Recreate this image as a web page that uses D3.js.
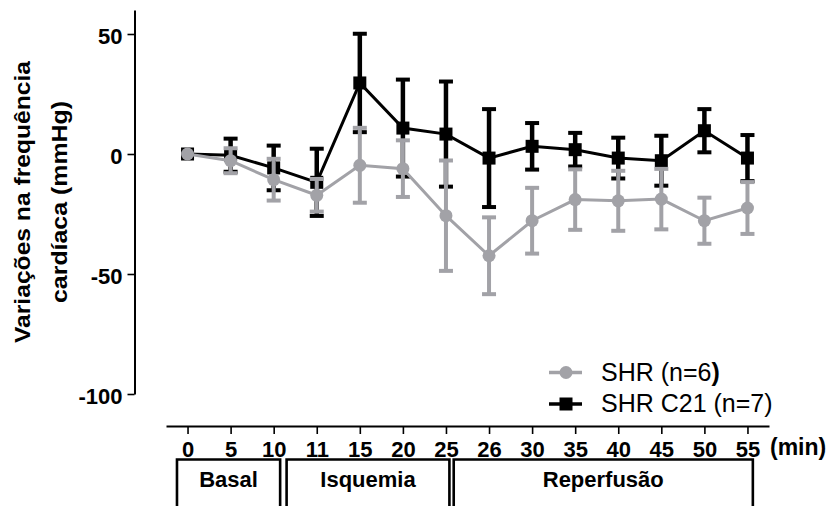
<!DOCTYPE html>
<html><head><meta charset="utf-8">
<script src="https://cdn.jsdelivr.net/npm/d3@7"></script>
<style>
body{margin:0;background:#fff}
svg{display:block}
text{font-family:"Liberation Sans",Arial,Helvetica,sans-serif}
</style>
</head><body>
<svg id="chart" width="830" height="506"></svg>
<script>
// ---- data ----
const timeLabels = ["0","5","10","11","15","20","25","26","30","35","40","45","50","55"];
const shrMean = [0, -2.8, -10.7, -17.2, -4.7, -6.1, -25.7, -42.4, -27.8, -19.0, -19.5, -18.8, -27.8, -22.5];
const shrSem  = [0, 5.2, 8.7, 6.8, 15.6, 11.8, 23.0, 16.0, 13.7, 12.6, 12.5, 12.6, 9.6, 10.8];
const c21Mean = [0, -0.5, -5.8, -11.8, 29.6, 10.8, 8.3, -1.7, 3.2, 1.8, -1.7, -2.8, 9.7, -1.7];
const c21Sem  = [0, 6.9, 9.3, 14.0, 20.5, 20.2, 21.9, 20.4, 9.7, 7.0, 8.5, 10.4, 9.0, 9.6];
const yTicks = [50, 0, -50, -100];
const seriesNames = ["SHR (n=6", "SHR C21 (n=7)"];
const phaseLabels = ["Basal", "Isquemia", "Reperfusão"];
// phase box extents in time-index units
const phaseStart = [-0.245, 2.30, 6.18];
const phaseEnd   = [2.15, 6.08, 13.125];
const yTitle = ["Variações na frequência", "cardíaca (mmHg)"];
const xUnit = "(min)";

const GRAY = "#a2a2a7";
const svg = d3.select("#chart");

const x = d3.scalePoint().domain(timeLabels).range([166, 769]).padding(0.5);
const xi = d3.scaleLinear().domain([0, timeLabels.length - 1]).range([x(timeLabels[0]), x(timeLabels[timeLabels.length-1])]);
const y = d3.scaleLinear().domain([-100, 60]).range([394, 10]);

// ---- y axis ----
const gy = svg.append("g").attr("transform", "translate(134.5,0)")
  .call(d3.axisLeft(y).tickValues(yTicks).tickSize(7).tickSizeOuter(0).tickPadding(5).tickFormat(d => String(d)));
gy.select(".domain").attr("stroke", "#000").attr("stroke-width", 2);
gy.selectAll(".tick line").attr("stroke", "#000").attr("stroke-width", 1.6);
gy.selectAll(".tick text").attr("font-size", 22).attr("font-weight", "bold").attr("fill", "#000").attr("dy", "0.42em");

// ---- x axis ----
const gx = svg.append("g").attr("transform", "translate(0,426)")
  .call(d3.axisBottom(x).tickSize(8).tickSizeOuter(0).tickPadding(7));
gx.select(".domain").attr("stroke", "#000").attr("stroke-width", 2);
gx.selectAll(".tick line").attr("stroke", "#000").attr("stroke-width", 1.6);
gx.selectAll(".tick text").attr("font-size", 22).attr("font-weight", "bold").attr("fill", "#000");

svg.append("text").attr("x", 770).attr("y", 455)
  .attr("font-size", 23).attr("font-weight", "bold").text(xUnit);

// ---- y title ----
const titleX = [30, 67];
const titleLen = [282, 202];
yTitle.forEach((t, i) => {
  svg.append("text")
    .attr("transform", `translate(${titleX[i]},202) rotate(-90)`)
    .attr("text-anchor", "middle")
    .attr("font-size", 22).attr("font-weight", "bold")
    .attr("textLength", titleLen[i]).attr("lengthAdjust", "spacingAndGlyphs")
    .text(t);
});

// ---- phase boxes ----
const boxTop = 459.5, boxBottom = 510;
phaseLabels.forEach((p, i) => {
  const x0 = xi(phaseStart[i]), x1 = xi(phaseEnd[i]);
  svg.append("path")
    .attr("d", `M${x0},${boxBottom}V${boxTop}H${x1}V${boxBottom}`)
    .attr("fill", "none").attr("stroke", "#000").attr("stroke-width", 2.6);
  svg.append("text").attr("x", (x0 + x1) / 2).attr("y", 487)
    .attr("text-anchor", "middle").attr("font-size", 22).attr("font-weight", "bold").text(p);
});

// ---- series ----
function drawSeries(means, sems, color, marker, barW) {
  const g = svg.append("g");
  const pts = timeLabels.map((t, i) => ({t, m: means[i], s: sems[i]}));
  g.append("path").datum(pts)
    .attr("d", d3.line().x(d => x(d.t)).y(d => y(d.m)))
    .attr("fill", "none").attr("stroke", color).attr("stroke-width", 3);
  const bars = g.selectAll(".eb").data(pts.filter(d => d.s > 0)).enter().append("g");
  bars.append("line")
    .attr("x1", d => x(d.t)).attr("x2", d => x(d.t))
    .attr("y1", d => y(d.m - d.s)).attr("y2", d => y(d.m + d.s))
    .attr("stroke", color).attr("stroke-width", barW);
  [1, -1].forEach(sg => {
    bars.append("line")
      .attr("x1", d => x(d.t) - 7).attr("x2", d => x(d.t) + 7)
      .attr("y1", d => y(d.m + sg * d.s)).attr("y2", d => y(d.m + sg * d.s))
      .attr("stroke", color).attr("stroke-width", 4);
  });
  if (marker === "square") {
    g.selectAll(".mk").data(pts).enter().append("rect")
      .attr("x", d => x(d.t) - 6.5).attr("y", d => y(d.m) - 6.5)
      .attr("width", 13).attr("height", 13).attr("fill", color);
  } else {
    g.selectAll(".mk").data(pts).enter().append("circle")
      .attr("cx", d => x(d.t)).attr("cy", d => y(d.m)).attr("r", 6.5).attr("fill", color);
  }
}
drawSeries(c21Mean, c21Sem, "#000", "square", 4.5);
drawSeries(shrMean, shrSem, GRAY, "circle", 4);

// ---- legend ----
const leg = svg.append("g");
const legY = [372.5, 404];
const legColors = [GRAY, "#000"];
legY.forEach((ly, i) => {
  leg.append("line").attr("x1", 549).attr("x2", 582).attr("y1", ly).attr("y2", ly)
    .attr("stroke", legColors[i]).attr("stroke-width", 3.5);
  if (i === 0) leg.append("circle").attr("cx", 566).attr("cy", ly).attr("r", 6.5).attr("fill", legColors[i]);
  else leg.append("rect").attr("x", 559.5).attr("y", ly - 6.5).attr("width", 13).attr("height", 13).attr("fill", legColors[i]);
  const t = leg.append("text").attr("x", 601).attr("y", ly + 8).attr("font-size", 25).text(seriesNames[i]);
  if (i === 0) t.append("tspan").attr("font-weight", "bold").text(")");
});
</script>
</body></html>
